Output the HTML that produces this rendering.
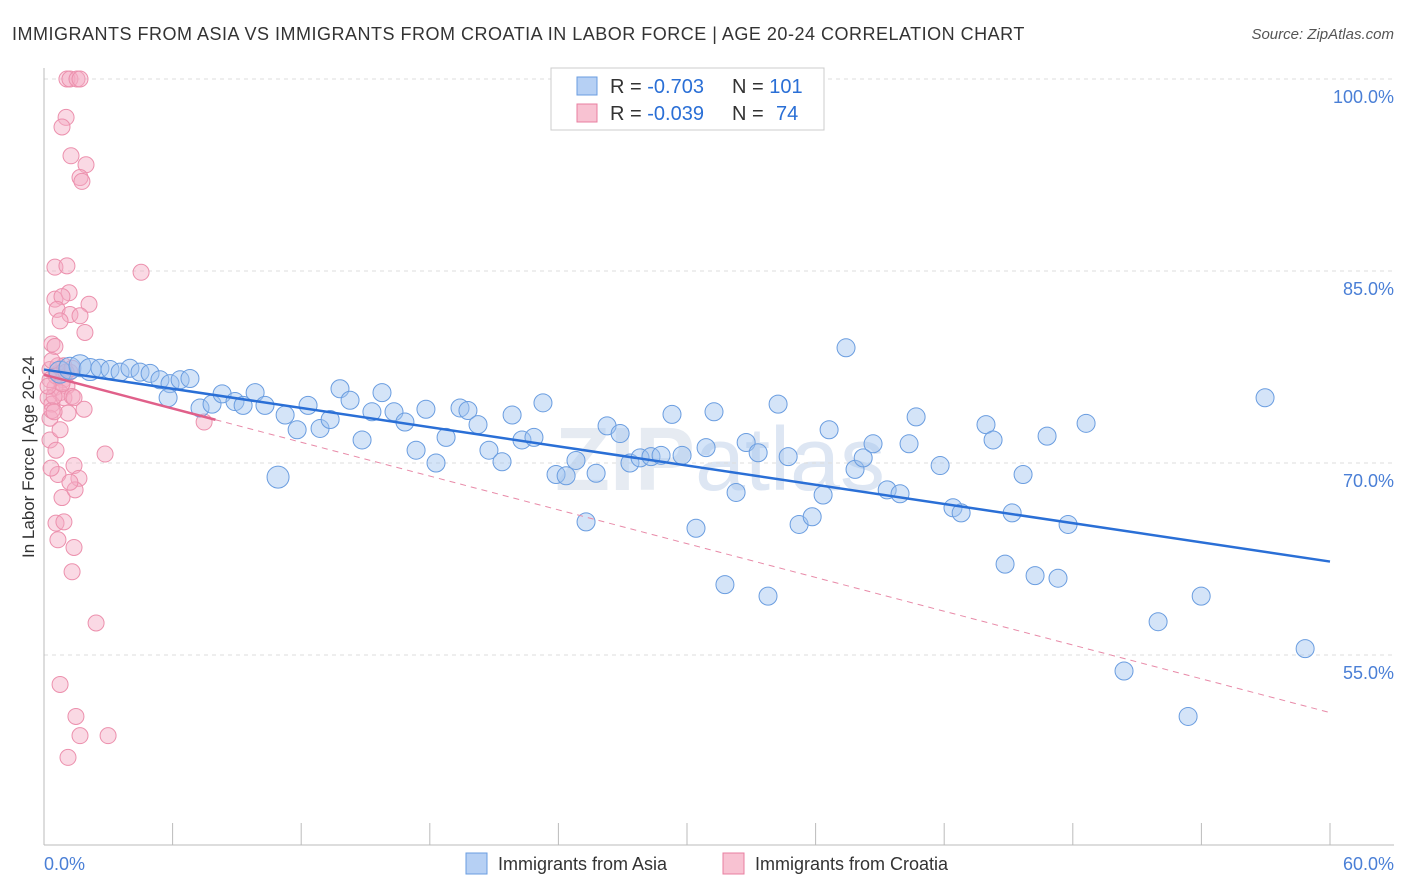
<!DOCTYPE html>
<html><head><meta charset="utf-8">
<style>
body{margin:0;background:#fff;font-family:"Liberation Sans",sans-serif;}
svg{display:block}
</style></head>
<body>
<svg id="chart" width="1406" height="892" xmlns="http://www.w3.org/2000/svg">
<text x="12" y="40" font-size="18" fill="#333" letter-spacing="0.5">IMMIGRANTS FROM ASIA VS IMMIGRANTS FROM CROATIA IN LABOR FORCE | AGE 20-24 CORRELATION CHART</text>
<text x="1394" y="39" font-size="15" fill="#555" text-anchor="end" font-style="italic">Source: ZipAtlas.com</text>
<text x="720" y="490" font-size="90" fill="#e6ebf2" text-anchor="middle" font-weight="bold">ZIP<tspan font-weight="normal" fill="#dde6f3">atlas</tspan></text>
<g id="grid"></g>
<g id="axes"></g>
<g id="pink"></g>
<g id="blue"></g>
<g id="lines"></g>
<text transform="translate(34,457) rotate(-90)" font-size="17" fill="#333" text-anchor="middle">In Labor Force | Age 20-24</text>
<text x="44" y="870" font-size="18" fill="#4a7fd6">0.0%</text>
<text x="1394" y="870" font-size="18" fill="#4a7fd6" text-anchor="end">60.0%</text>
<g>
<rect x="551" y="68" width="273" height="62" fill="#fff" stroke="#ccc"/>
<rect x="577" y="77" width="20" height="18" fill="#b6d0f4" stroke="#6a9de0"/>
<rect x="577" y="104" width="20" height="18" fill="#f8c2d2" stroke="#e87fa0"/>
<text x="610" y="93" font-size="20" fill="#333">R = <tspan fill="#2a6fd6">-0.703</tspan></text>
<text x="732" y="93" font-size="20" fill="#333">N = <tspan fill="#2a6fd6">101</tspan></text>
<text x="610" y="120" font-size="20" fill="#333">R = <tspan fill="#2a6fd6">-0.039</tspan></text>
<text x="732" y="120" font-size="20" fill="#333">N = </text>
<text x="776" y="120" font-size="20" fill="#2a6fd6">74</text>
</g>
<g>
<rect x="466" y="853" width="21" height="21" fill="#b6d0f4" stroke="#6a9de0"/>
<text x="498" y="870" font-size="18" fill="#333">Immigrants from Asia</text>
<rect x="723" y="853" width="21" height="21" fill="#f8c2d2" stroke="#e87fa0"/>
<text x="755" y="870" font-size="18" fill="#333">Immigrants from Croatia</text>
</g>
</svg>
<script>
const yTicks=[100,85,70,55];
const yTickLabels=["100.0%","85.0%","70.0%","55.0%"];
const xTicks=[0,6,12,18,24,30,36,42,48,54,60];
const asiaX=[0.75,1.21,1.68,2.15,2.61,3.08,3.55,4.01,4.48,4.95,5.41,5.88,6.35,6.81,5.79,7.28,7.84,8.31,8.91,9.29,9.85,10.31,11.25,11.81,12.32,12.88,13.35,13.81,14.28,14.84,15.3,15.77,16.33,16.84,17.36,17.82,18.29,18.76,19.41,19.78,20.25,20.76,21.37,21.84,22.3,22.86,23.28,23.89,24.36,24.82,25.29,25.76,26.27,26.88,27.34,27.81,28.32,28.79,29.3,29.77,30.42,30.89,31.26,31.77,32.29,32.76,33.32,33.78,34.25,34.72,35.23,35.84,36.35,36.63,37.42,37.84,38.22,38.68,39.34,39.94,40.36,40.69,41.81,42.41,42.79,43.95,44.28,44.84,45.17,45.68,46.24,46.8,47.31,47.78,48.62,50.39,51.98,53.38,53.99,56.97,58.84,10.92];
const asiaY=[77.1,77.4,77.6,77.3,77.4,77.3,77.1,77.4,77.1,77.0,76.5,76.2,76.5,76.6,75.1,74.3,74.6,75.4,74.8,74.5,75.5,74.5,73.75,72.6,74.5,72.7,73.4,75.8,74.9,71.8,74.0,75.5,74.0,73.2,71.0,74.2,70.0,72.0,74.3,74.1,73.0,71.0,70.1,73.75,71.8,72.0,74.7,69.1,69.0,70.2,65.4,69.2,72.9,72.3,70.0,70.4,70.5,70.6,73.8,70.6,64.9,71.2,74.0,60.5,67.7,71.6,70.8,59.6,74.6,70.5,65.2,65.8,67.5,72.6,79.0,69.5,70.4,71.5,67.9,67.6,71.5,73.6,69.8,66.5,66.1,73.0,71.8,62.1,66.1,69.1,61.2,72.1,61.0,65.2,73.1,53.75,57.6,50.2,59.6,75.1,55.5,68.9];
const croX=[1.07,1.21,1.54,1.68,1.03,0.84,1.26,1.96,1.68,1.77,4.53,0.51,1.07,0.51,1.17,0.84,2.1,0.61,1.21,1.68,0.75,1.91,0.37,0.51,0.28,0.65,0.89,1.07,0.51,0.75,0.19,0.37,0.93,1.31,1.4,1.87,1.12,0.28,0.37,7.47,0.28,0.56,2.85,1.4,0.65,1.63,0.33,0.84,1.45,1.21,0.56,0.93,0.65,1.4,1.31,2.43,0.75,1.49,1.68,2.99,1.12,0.93,1.21,0.65,0.47,0.28,0.56,0.84,1.03,1.31,0.19,0.47,0.75,0.37];
const croY=[100,100,100,100,97.0,96.25,94.0,93.3,92.3,92.0,84.9,85.3,85.4,82.8,83.3,83.0,82.4,82.0,81.6,81.5,81.1,80.2,79.3,79.1,77.3,77.0,76.5,76.0,75.9,75.5,75.1,74.6,75.1,75.2,75.1,74.2,73.9,73.5,74.1,73.2,71.8,71.0,70.7,69.8,69.1,68.8,69.6,67.3,67.9,68.5,65.3,65.4,64.0,63.4,61.5,57.5,52.7,50.2,48.7,48.7,47.0,77.6,77.1,77.6,75.2,76.5,76.8,76.2,77.1,77.4,76.0,74.0,72.6,78.0];
const asiaTrend=[77.3,62.3];
const croTrend=[76.9,50.5];
const croSolidEnd=8;

const NS="http://www.w3.org/2000/svg";
const X0=44,X1=1330,Y100=79,PX_PER=12.8;
const sx=v=>X0+(v/60)*(X1-X0);
const sy=v=>Y100+(100-v)*PX_PER;
function mk(tag,attrs,parent){const e=document.createElementNS(NS,tag);for(const k in attrs)e.setAttribute(k,attrs[k]);parent.appendChild(e);return e;}
const grid=document.getElementById('grid'),axes=document.getElementById('axes');
yTicks.forEach((t,i)=>{
 const l=mk('line',{x1:X0,x2:1394,y1:sy(t),y2:sy(t),stroke:'#ddd','stroke-dasharray':'4,4'},grid);
 
 
 const tx=mk('text',{x:1394,y:sy(t)+24,'font-size':18,fill:'#4a7fd6','text-anchor':'end'},grid);
 tx.textContent=yTickLabels[i];
 
 
});
const ax=mk('line',{x1:X0,x2:X0,y1:68,y2:845,stroke:'#bbb'},axes);


const bx=mk('line',{x1:X0,x2:1394,y1:845,y2:845,stroke:'#bbb'},axes);


xTicks.forEach(t=>{
 const l=mk('line',{x1:sx(t),x2:sx(t),y1:823,y2:845,stroke:'#bbb'},axes);
 
 
});
const pink=document.getElementById('pink');
croX.forEach((x,i)=>{
 const c=mk('circle',{cx:sx(x),cy:sy(croY[i]),r:8,fill:'rgba(244,170,195,0.45)',stroke:'#ec90ad','stroke-width':1},pink);
 
 
});
const blue=document.getElementById('blue');
asiaX.forEach((x,i)=>{
 const big=i===asiaX.length-1||i<4;
 const c=mk('circle',{cx:sx(x),cy:sy(asiaY[i]),r:big?11:9,fill:'rgba(160,195,240,0.45)',stroke:'#6a9de0','stroke-width':1},blue);
 
 
});
const lines=document.getElementById('lines');
const l1=mk('line',{x1:sx(0),y1:sy(asiaTrend[0]),x2:sx(60),y2:sy(asiaTrend[1]),stroke:'#2a6fd6','stroke-width':2.5},lines);


const cy=x=>croTrend[0]+(croTrend[1]-croTrend[0])*x/60;
const l2=mk('line',{x1:sx(0),y1:sy(cy(0)),x2:sx(croSolidEnd),y2:sy(cy(croSolidEnd)),stroke:'#e0608a','stroke-width':2.5},lines);


const l3=mk('line',{x1:sx(croSolidEnd),y1:sy(cy(croSolidEnd)),x2:sx(60),y2:sy(cy(60)),stroke:'#e88aa8','stroke-width':1,'stroke-dasharray':'6,5'},lines);


</script>
</body></html>
